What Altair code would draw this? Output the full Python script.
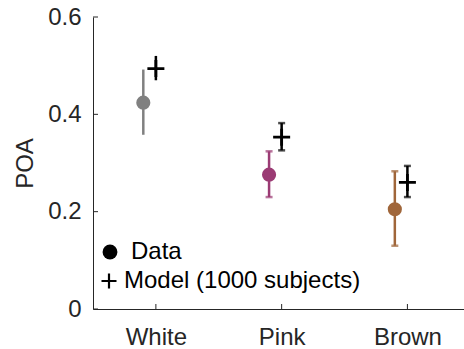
import altair as alt
import pandas as pd

categories = ["White", "Pink", "Brown"]
data_mean = [0.424, 0.276, 0.205]
data_low = [0.358, 0.230, 0.130]
data_high = [0.492, 0.324, 0.283]
model_mean = [0.494, 0.353, 0.260]
model_low = [0.470, 0.326, 0.230]
model_high = [0.520, 0.382, 0.294]
has_caps = [False, True, True]
colors = ["#808080", "#9B3B74", "#A0663A"]
y_ticks = [0, 0.2, 0.4, 0.6]
legend_labels = ["Data", "Model (1000 subjects)"]

FONT = "Liberation Sans"
TXT = "#262626"
FS = 24
W, H = 371, 292
data_shift = -0.1

pos = [i + 1 for i in range(len(categories))]
df = pd.DataFrame({
    "cat": categories,
    "pos": pos,
    "dpos": [p + data_shift for p in pos],
    "dm": data_mean, "dl": data_low, "dh": data_high,
    "mm": model_mean, "ml": model_low, "mh": model_high,
    "caps": has_caps,
})

caps_rows = []
for i, c in enumerate(categories):
    if has_caps[i]:
        caps_rows += [
            {"cat": c, "x": pos[i] + data_shift, "y": data_low[i], "kind": "data"},
            {"cat": c, "x": pos[i] + data_shift, "y": data_high[i], "kind": "data"},
            {"cat": c, "x": pos[i], "y": model_low[i], "kind": "model"},
            {"cat": c, "x": pos[i], "y": model_high[i], "kind": "model"},
        ]
caps_df = pd.DataFrame(caps_rows)
ticks_df = pd.DataFrame({"v": y_ticks})
xt_df = pd.DataFrame({"p": pos})
leg_df = pd.DataFrame({"label": legend_labels})

xscale = alt.Scale(domain=[0.5, 3.45], nice=False, zero=False)
yscale = alt.Scale(domain=[0, 0.6], nice=False, zero=False)
label_expr = "[" + ",".join("'%s'" % c for c in categories) + "][datum.value - 1]"
X_AX = alt.Axis(values=pos, labelExpr=label_expr, ticks=False, grid=False,
                labelPadding=16, title=None)
Y_AX = alt.Axis(values=y_ticks, ticks=False, grid=False, labelPadding=12,
                labelExpr="datum.value == 0 ? '0' : format(datum.value, '.1f')",
                title="POA", titlePadding=10)
color = alt.Color("cat:N", scale=alt.Scale(domain=categories, range=colors), legend=None)
PLUS = "M-1,0L1,0M0,-1L0,1"

def X(f):
    return alt.X(f, type="quantitative", scale=xscale, axis=X_AX)

def Y(f):
    return alt.Y(f, type="quantitative", scale=yscale, axis=Y_AX)

base = alt.Chart(df)

data_err = base.mark_rule(strokeWidth=2.5).encode(x=X("dpos"), y=Y("dl"), y2="dh", color=color)
data_caps = alt.Chart(caps_df).transform_filter("datum.kind == 'data'").mark_tick(
    orient="horizontal", size=7, thickness=2.5).encode(x=X("x"), y=Y("y"), color=color)
data_pts = base.mark_point(filled=True, size=200, opacity=1, shape="circle").encode(
    x=X("dpos"), y=Y("dm"), color=color)

model_err = base.mark_rule(strokeWidth=2.5, color="black").encode(x=X("pos"), y=Y("ml"), y2="mh")
model_caps = alt.Chart(caps_df).transform_filter("datum.kind == 'model'").mark_tick(
    orient="horizontal", size=7, thickness=2.5, color="black").encode(x=X("x"), y=Y("y"))
model_pts = base.mark_point(shape=PLUS, filled=False, size=289, strokeWidth=2.8,
                            color="black", opacity=1).encode(x=X("pos"), y=Y("mm"))

ytick_marks = alt.Chart(ticks_df).mark_rule(color=TXT, strokeWidth=1).encode(
    y=Y("v"), x=alt.value(0), x2=alt.value(5))
xtick_marks = alt.Chart(xt_df).mark_rule(color=TXT, strokeWidth=1).encode(
    x=X("p"), y=alt.value(H), y2=alt.value(H - 5))

leg_dot = alt.Chart(leg_df).transform_filter("datum.label == '%s'" % legend_labels[0]).mark_point(
    filled=True, size=220, color="black", opacity=1, shape="circle").encode(
    x=alt.value(17), y=alt.value(235))
leg_plus = alt.Chart(leg_df).transform_filter("datum.label == '%s'" % legend_labels[1]).mark_point(
    shape=PLUS, filled=False, size=225, strokeWidth=2.2, color="black", opacity=1).encode(
    x=alt.value(16), y=alt.value(264))
leg_t1 = alt.Chart(leg_df).transform_filter("datum.label == '%s'" % legend_labels[0]).mark_text(
    align="left", baseline="middle", font=FONT, fontSize=FS, color="black").encode(
    x=alt.value(38), y=alt.value(235), text="label:N")
leg_t2 = alt.Chart(leg_df).transform_filter("datum.label == '%s'" % legend_labels[1]).mark_text(
    align="left", baseline="middle", font=FONT, fontSize=FS, color="black").encode(
    x=alt.value(31), y=alt.value(264), text="label:N")

chart = alt.layer(
    ytick_marks, xtick_marks,
    data_err, data_caps, data_pts,
    model_err, model_caps, model_pts,
    leg_dot, leg_plus, leg_t1, leg_t2,
).properties(
    width=W, height=H,
    padding={"left": 93, "top": 17, "right": 0, "bottom": 40},
    autosize=alt.AutoSizeParams(type="none"),
).configure_view(stroke=None).configure_axis(
    domainColor=TXT, domainWidth=1, labelColor=TXT, titleColor=TXT,
    labelFont=FONT, titleFont=FONT, labelFontSize=FS, titleFontSize=FS,
    titleFontWeight="normal",
)

chart.save("out.html", embed_options={"renderer": "svg", "actions": False})
